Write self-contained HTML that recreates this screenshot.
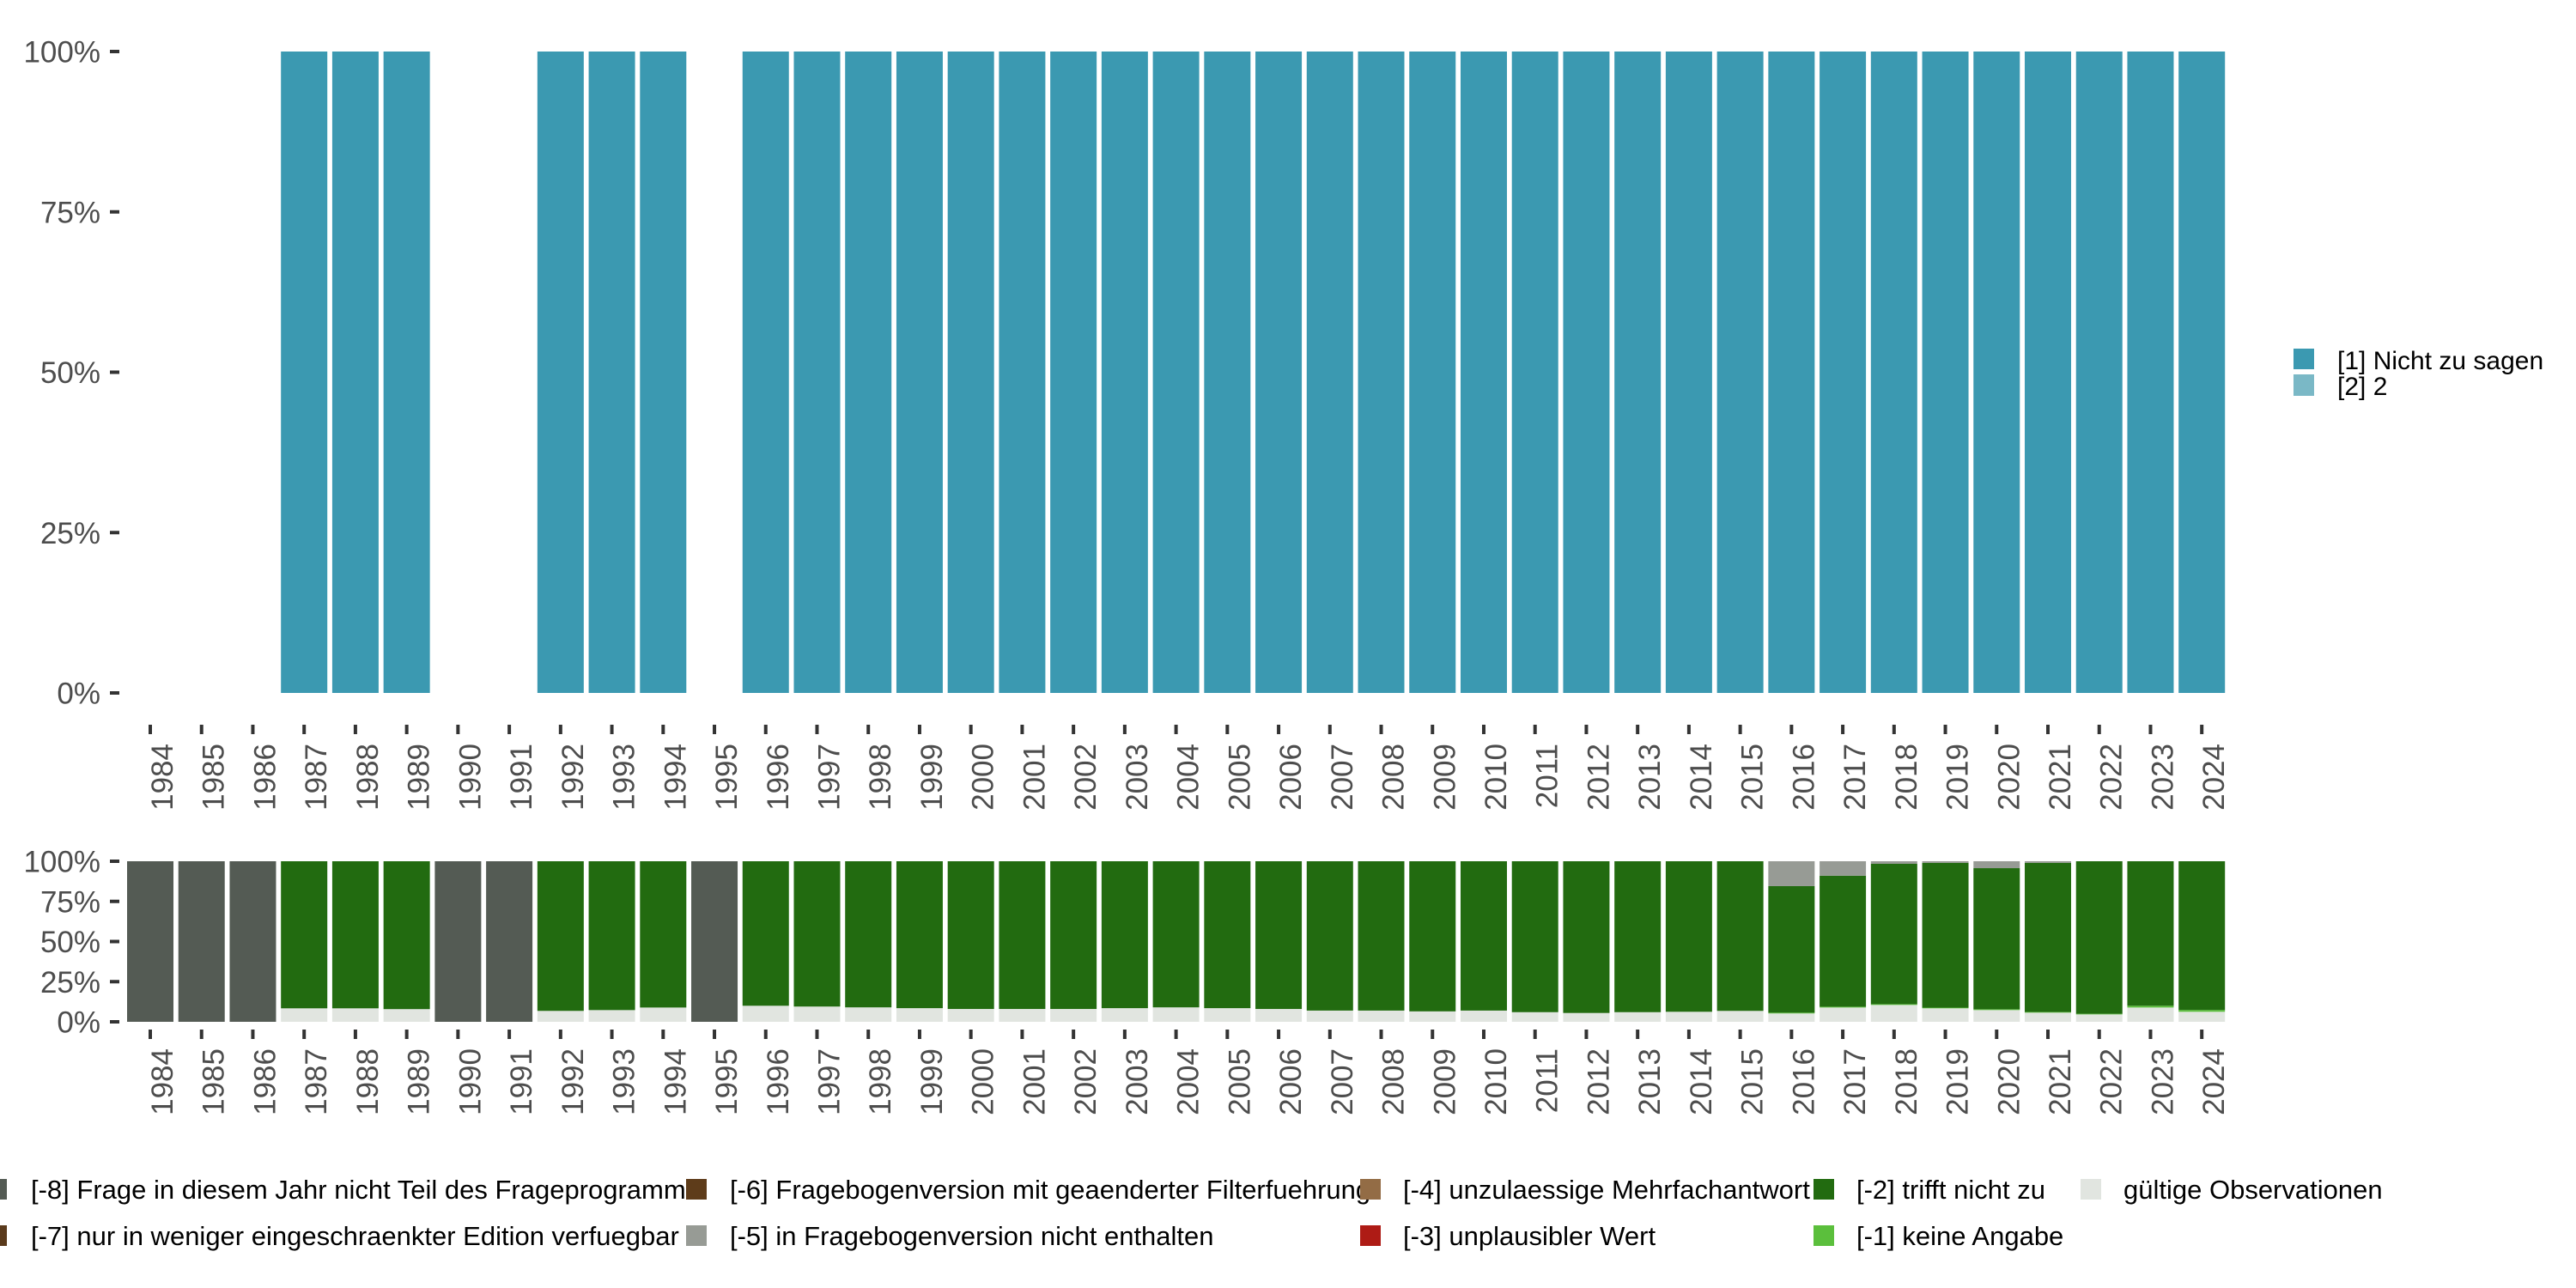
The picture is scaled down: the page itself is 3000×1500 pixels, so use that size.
<!DOCTYPE html>
<html><head><meta charset="utf-8">
<style>
html,body{margin:0;padding:0;background:#fff;}
svg{display:block;font-family:"Liberation Sans",sans-serif;}
</style></head>
<body>
<svg id="chart" width="3000" height="1500" viewBox="0 0 3000 1500" xmlns="http://www.w3.org/2000/svg">
<g id="top-panel"></g>
<g id="bottom-panel"></g>
<g id="right-legend">
  <rect x="2671" y="406" width="24" height="24" fill="#3b99b1"/>
  <text x="2722" y="430" font-size="30" fill="#000">[1] Nicht zu sagen</text>
  <rect x="2671" y="436" width="24" height="25" fill="#7ab8c6"/>
  <text x="2722" y="460" font-size="30" fill="#000">[2] 2</text>
</g>
<g id="bottom-legend" font-size="31" fill="#000" transform="translate(0,-15)">
  <rect x="-16" y="1388" width="24" height="24" fill="#545b54"/>
  <text x="36" y="1411">[-8] Frage in diesem Jahr nicht Teil des Frageprogramms</text>
  <rect x="-16" y="1442" width="24" height="24" fill="#5a3a1c"/>
  <text x="36" y="1465">[-7] nur in weniger eingeschraenkter Edition verfuegbar</text>
  <rect x="799" y="1388" width="24" height="24" fill="#5e3c1a"/>
  <text x="850" y="1411">[-6] Fragebogenversion mit geaenderter Filterfuehrung</text>
  <rect x="799" y="1442" width="24" height="24" fill="#979b95"/>
  <text x="850" y="1465">[-5] in Fragebogenversion nicht enthalten</text>
  <rect x="1584" y="1388" width="24" height="24" fill="#936c45"/>
  <text x="1634" y="1411">[-4] unzulaessige Mehrfachantwort</text>
  <rect x="1584" y="1442" width="24" height="24" fill="#ae1b15"/>
  <text x="1634" y="1465">[-3] unplausibler Wert</text>
  <rect x="2112" y="1388" width="24" height="24" fill="#226b10"/>
  <text x="2162" y="1411">[-2] trifft nicht zu</text>
  <rect x="2112" y="1442" width="24" height="24" fill="#5bbf3c"/>
  <text x="2162" y="1465">[-1] keine Angabe</text>
  <rect x="2423" y="1388" width="24" height="24" fill="#e1e5e0"/>
  <text x="2473" y="1411">gültige Observationen</text>
</g>
</svg>
<script>
const years = [1984,1985,1986,1987,1988,1989,1990,1991,1992,1993,1994,1995,1996,1997,1998,1999,2000,2001,2002,2003,2004,2005,2006,2007,2008,2009,2010,2011,2012,2013,2014,2015,2016,2017,2018,2019,2020,2021,2022,2023,2024];
const nichtZuSagen = [0,0,0,1,1,1,0,0,1,1,1,0,1,1,1,1,1,1,1,1,1,1,1,1,1,1,1,1,1,1,1,1,1,1,1,1,1,1,1,1,1];
const wert2 = [0,0,0,0,0,0,0,0,0,0,0,0,0,0,0,0,0,0,0,0,0,0,0,0,0,0,0,0,0,0,0,0,0,0,0,0,0,0,0,0,0];
const nichtTeil = [1,1,1,0,0,0,1,1,0,0,0,1,0,0,0,0,0,0,0,0,0,0,0,0,0,0,0,0,0,0,0,0,0,0,0,0,0,0,0,0,0];
const gueltig = [0,0,0,0.084,0.084,0.079,0,0,0.068,0.073,0.089,0,0.10,0.095,0.09,0.085,0.08,0.08,0.08,0.085,0.09,0.085,0.08,0.07,0.07,0.065,0.07,0.06,0.055,0.06,0.0625,0.068,0.052,0.089,0.105,0.084,0.073,0.057,0.046,0.089,0.0625];
const keineAngabe = [0,0,0,0,0,0,0,0,0,0,0,0,0,0,0,0,0,0,0,0,0,0,0,0,0,0,0,0,0,0,0,0,0.005,0.005,0.005,0.004,0.005,0.004,0.004,0.011,0.011];
const nichtEnthalten = [0,0,0,0,0,0,0,0,0,0,0,0,0,0,0,0,0,0,0,0,0,0,0,0,0,0,0,0,0,0,0,0,0.155,0.09,0.016,0.01,0.043,0.01,0,0,0];
const yTicks = [0,0.25,0.5,0.75,1];
const yTickLabels = ["0%","25%","50%","75%","100%"];

const NS = "http://www.w3.org/2000/svg";
const x0 = 175, pitch = 59.73, barW = 54;
function xScale(i){ return x0 + i*pitch; }
function topY(v){ return 807 - v*747; }
function botY(v){ return 1190 - v*187; }
function mk(parent, tag, attrs){
  const el = document.createElementNS(NS, tag);
  for (const k in attrs) el.setAttribute(k, attrs[k]);
  parent.appendChild(el);
  return el;
}
function yAxis(g, yf, prefix){
  yTicks.forEach((t,k)=>{
    const tx = mk(g,'text',{x:117,y:yf(t)+12.5,'text-anchor':'end','font-size':35,fill:'#4d4d4d'});
    tx.textContent = yTickLabels[k];
    
    
    const tk = mk(g,'rect',{x:128,y:yf(t)-2,width:11,height:4,fill:'#333'});
    
    
  });
}
function xAxis(g, tickY, labelTop, prefix){
  years.forEach((yr,i)=>{
    const cx = xScale(i);
    const tk = mk(g,'rect',{x:cx-2,y:tickY,width:4,height:11,fill:'#333'});
    
    
    const bx = cx+26;
    const tx = mk(g,'text',{x:bx,y:labelTop,'text-anchor':'end','font-size':35,fill:'#4d4d4d',transform:`rotate(-90 ${bx} ${labelTop})`});
    tx.textContent = yr;
    
    
  });
}
const gTop = document.getElementById('top-panel');
yAxis(gTop, topY, 'top');
years.forEach((yr,i)=>{
  let base = 0;
  [[nichtZuSagen,'#3b99b1','bar-nicht-zu-sagen'],[wert2,'#7ab8c6','bar-wert-2']].forEach(([arr,col,nm])=>{
    const v = arr[i];
    if (v>0){
      const r = mk(gTop,'rect',{x:xScale(i)-barW/2,y:topY(base+v),width:barW,height:topY(base)-topY(base+v),fill:col});
      
      
    }
    base += v;
  });
});
xAxis(gTop, 844, 866, 'top');
const gBot = document.getElementById('bottom-panel');
yAxis(gBot, botY, 'bottom');
years.forEach((yr,i)=>{
  const trifft = Math.max(0, 1 - nichtTeil[i] - gueltig[i] - keineAngabe[i] - nichtEnthalten[i]);
  const parts = nichtTeil[i] ? [[nichtTeil[i],'#545b54','bar-nicht-teil']] :
    [[gueltig[i],'#e1e5e0','bar-gueltig'],[keineAngabe[i],'#5bbf3c','bar-keine-angabe'],[trifft,'#226b10','bar-trifft-nicht-zu'],[nichtEnthalten[i],'#979b95','bar-nicht-enthalten']];
  let base = 0;
  parts.forEach(([v,col,nm])=>{
    if (v>0){
      const r = mk(gBot,'rect',{x:xScale(i)-barW/2,y:botY(base+v),width:barW,height:botY(base)-botY(base+v),fill:col});
      
      
    }
    base += v;
  });
});
xAxis(gBot, 1199, 1221, 'bottom');
</script>
</body></html>
